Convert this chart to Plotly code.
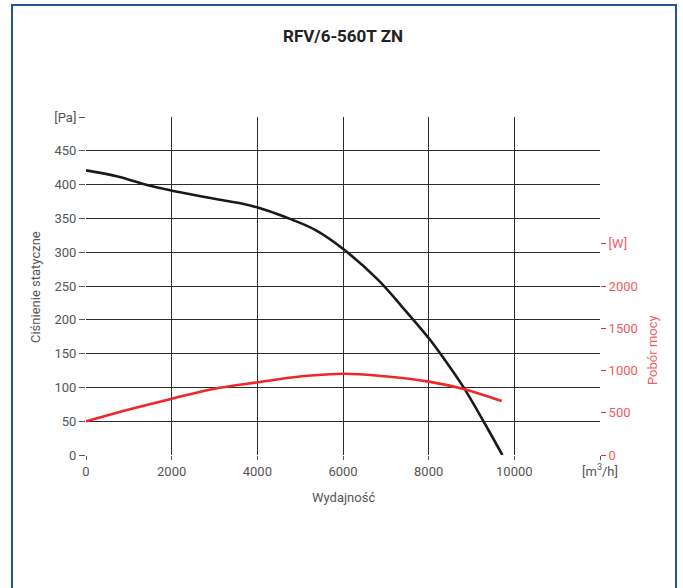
import plotly.graph_objects as go

# Data
flow_pressure = [0, 740, 1445, 2010, 3090, 3630, 4010, 4650, 5350, 6020, 6820, 7370, 8000, 8350, 8815, 9395, 9720]
pressure = [421, 412, 399, 391, 378, 372, 366, 352, 333, 304, 259, 220, 173, 143, 100, 37, 0]

flow_power = [0, 980, 2010, 3090, 4010, 5040, 6020, 6970, 8000, 8815, 9705]
power = [398, 536, 667, 793, 860, 931, 962, 931, 868, 781, 639]

x_tickvals = [0, 2000, 4000, 6000, 8000, 10000, 12000]
x_ticktext = ["0", "2000", "4000", "6000", "8000", "10000", "[m<sup>3</sup>/h]"]
y_tickvals = [0, 50, 100, 150, 200, 250, 300, 350, 400, 450, 500]
y_ticktext = ["0", "50", "100", "150", "200", "250", "300", "350", "400", "450", "[Pa]"]
y2_tickvals = [0, 500, 1000, 1500, 2000, 2500]
y2_ticktext = ["0", "500", "1000", "1500", "2000", "[W]"]

FONT = "Roboto"
GRAY = "#555555"
RED = "#f0262a"
RED_TXT = "#f25a5f"

L, R, T, B = 86, 83, 117, 133
W, H = 683, 588
pw, ph = W - L - R, H - T - B

def px(xp):
    return (xp - L) / pw

def py(yp):
    return (H - B - yp) / ph

fig = go.Figure()
fig.add_trace(go.Scatter(x=flow_pressure, y=pressure, mode="lines",
                         line=dict(color="#1a1a1a", width=2.6, shape="spline", smoothing=1.0),
                         showlegend=False, hoverinfo="skip"))
fig.add_trace(go.Scatter(x=flow_power, y=power, mode="lines", yaxis="y2",
                         line=dict(color=RED, width=2.6, shape="spline", smoothing=1.0),
                         showlegend=False, hoverinfo="skip"))

fig.update_layout(
    width=W, height=H,
    margin=dict(l=L, r=R, t=T, b=B),
    paper_bgcolor="white", plot_bgcolor="white",
    font=dict(family=FONT, color=GRAY, size=13),
    xaxis=dict(range=[0, 12000], tickvals=x_tickvals, ticktext=x_ticktext,
               showgrid=True, gridcolor="#2b2b2b", gridwidth=1,
               zeroline=False, showline=False,
               ticks="outside", ticklen=4, tickcolor="#555555",
               tickfont=dict(size=13, color=GRAY, family=FONT)),
    yaxis=dict(range=[0, 500], tickvals=y_tickvals, ticktext=y_ticktext,
               showgrid=True, gridcolor="#2b2b2b", gridwidth=1,
               zeroline=False, showline=False,
               ticks="outside", ticklen=6, tickcolor="#555555",
               tickfont=dict(size=13, color=GRAY, family=FONT)),
    yaxis2=dict(range=[0, 4000], overlaying="y", side="right",
                tickvals=y2_tickvals, ticktext=y2_ticktext,
                showgrid=False, zeroline=False, showline=False,
                ticks="outside", ticklen=5, tickcolor=RED,
                tickfont=dict(size=13, color=RED_TXT, family=FONT)),
    title=dict(text="<b>RFV/6-560T ZN</b>", x=px(343), xref="paper", xanchor="center",
               y=1 - 36 / H, yanchor="middle",
               font=dict(family=FONT, size=17, color="#222222")),
)

fig.add_annotation(text="Ciśnienie statyczne", x=px(35), y=py(287), xref="paper", yref="paper",
                   textangle=-90, showarrow=False, xanchor="center", yanchor="middle",
                   font=dict(size=13, color=GRAY, family=FONT))
fig.add_annotation(text="Pobór mocy", x=px(652), y=py(350), xref="paper", yref="paper",
                   textangle=-90, showarrow=False, xanchor="center", yanchor="middle",
                   font=dict(size=13, color=RED_TXT, family=FONT))
fig.add_annotation(text="Wydajność", x=px(343), y=py(497), xref="paper", yref="paper",
                   showarrow=False, xanchor="center", yanchor="middle",
                   font=dict(size=13, color=GRAY, family=FONT))

# Outer frame
fig.add_shape(type="rect", xref="paper", yref="paper",
              x0=px(12), x1=px(676), y0=py(620), y1=py(5),
              line=dict(color="#1f5592", width=2), fillcolor="rgba(0,0,0,0)", layer="above")

fig.write_html("out.html", config={"displayModeBar": False},
               post_script="document.body.style.margin='0px';")
